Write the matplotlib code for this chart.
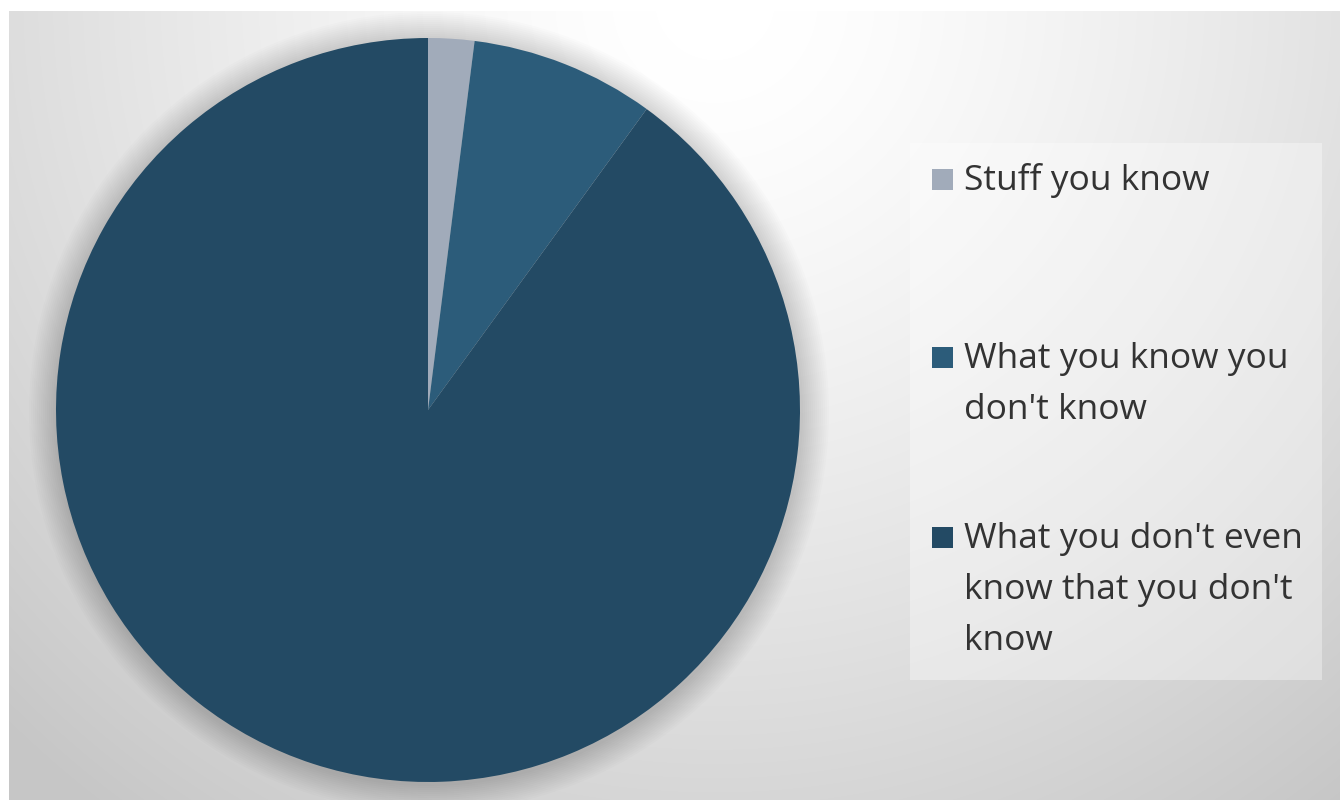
import numpy as np
import matplotlib
matplotlib.use("Agg")
import matplotlib.pyplot as plt
from matplotlib.patches import Circle, Rectangle

# data
labels = ["Stuff you know",
          "What you know you\ndon't know",
          "What you don't even\nknow that you don't\nknow"]
shares = [2, 8, 90]
colors = ["#a1abba", "#2c5c7a", "#234a64"]

W, H = 1340, 800
fig = plt.figure(figsize=(W / 100, H / 100), dpi=100, facecolor="white")

# background axes in pixel units (y down)
bg = fig.add_axes([0, 0, 1, 1])
bg.set_xlim(0, W)
bg.set_ylim(H, 0)
bg.axis("off")

# radial grey gradient, lightest near the top middle
xx, yy = np.meshgrid(np.arange(9, W) + 0.5, np.arange(11, H) + 0.5)
d = np.hypot(xx - 715, yy - 0)
t = np.clip((d - 60) / 950, 0, 1) ** 1.3
v = 1 - 0.22 * t
img = np.dstack([v, v, v])
bg.imshow(img, extent=(9, W, H, 11), interpolation="bilinear", zorder=0)

# soft shadow around the pie
cx, cy, r = 428, 410, 372
for k in range(2, 30, 2):
    bg.add_patch(Circle((cx + 1, cy + 2), r + k, facecolor="black",
                        edgecolor="none", alpha=0.012, zorder=1))

# legend panel
bg.add_patch(Rectangle((910, 143), 412, 537, facecolor="white",
                       edgecolor="none", alpha=0.35, zorder=2))

# legend entries
starts = [190, 368, 548]
for lab, col, y0 in zip(labels, colors, starts):
    bg.add_patch(Rectangle((932, y0 - 21), 21, 21, facecolor=col,
                           edgecolor="none", zorder=3))
    for i, line in enumerate(lab.split("\n")):
        bg.text(964, y0 + i * 51, line, fontsize=25.5, family="Open Sans",
                color="#333333", va="baseline", ha="left", zorder=4)

# pie axes placed exactly over the circle
pax = fig.add_axes([(cx - r) / W, (H - cy - r) / H, 2 * r / W, 2 * r / H])
pax.pie(shares, colors=colors, startangle=90, counterclock=False,
        radius=1, wedgeprops=dict(linewidth=0))
pax.set_xlim(-1, 1)
pax.set_ylim(-1, 1)
pax.set_aspect("equal")
pax.axis("off")

fig.savefig("out.png", dpi=100, facecolor="white")
